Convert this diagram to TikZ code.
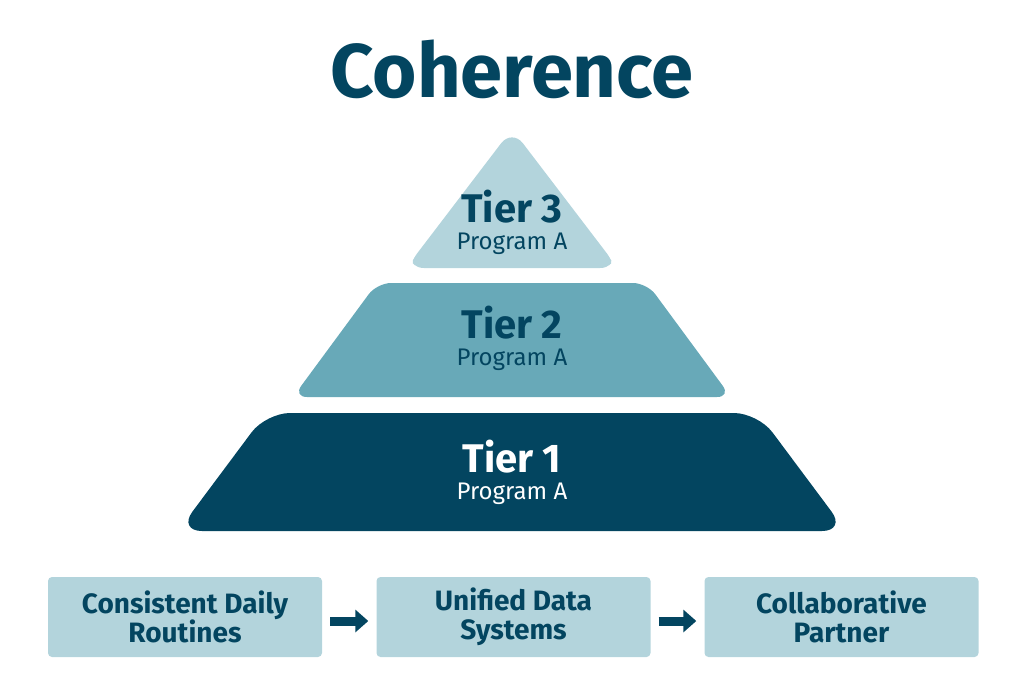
\documentclass[tikz,border=0pt]{standalone}
\usepackage{fontspec}
\setmainfont{Fira Sans}
\usetikzlibrary{arrows.meta}
\definecolor{darkteal}{HTML}{034560}
\definecolor{midteal}{HTML}{68A9B8}
\definecolor{lightteal}{HTML}{B3D4DC}
\tikzset{
  boxstyle/.style={fill=lightteal, rounded corners=4pt, minimum width=274pt, minimum height=80pt, inner sep=0pt, align=center, text=darkteal, font=\fontsize{28}{29}\selectfont\bfseries},
  tiername/.style={font=\fontsize{40}{40}\selectfont\bfseries, inner sep=0pt},
  tiersub/.style={font=\fontsize{24}{24}\selectfont, inner sep=0pt},
  flowarrow/.style={line width=9pt, darkteal, -{Triangle[width=22pt,length=13pt]}, shorten <=8pt, shorten >=8pt}
}
\begin{document}
\begin{tikzpicture}[x=1pt,y=-1pt]
\useasboundingbox (0,0) rectangle (1024,683);
\node[text=darkteal, font=\fontsize{76}{80}\selectfont\bfseries, inner sep=0pt] (title) at (512,69) {Coherence};
% Tier 3
\fill[lightteal, rounded corners=18pt] (512,129) -- (618,268) -- (406,268) -- cycle;
\fill[lightteal, rounded corners=12pt] (512,145) -- (617,266) -- (407,266) -- cycle;
% Tier 2
\fill[midteal, rounded corners=14pt] (377,283) -- (647,283) -- (731,397) -- (293,397) -- cycle;
% Tier 1
\fill[darkteal, rounded corners=24pt] (266,413) -- (758,413) -- (846,531) -- (178,531) -- cycle;
\node[tiername, text=darkteal] (t3) at (512,207) {Tier 3};
\node[tiersub, text=darkteal] (p3) at (512,244) {Program A};
\node[tiername, text=darkteal] (t2) at (512,323) {Tier 2};
\node[tiersub, text=darkteal] (p2) at (512,360) {Program A};
\node[tiername, text=white] (t1) at (512,457) {Tier 1};
\node[tiersub, text=white] (p1) at (512,494) {Program A};
% bottom flow
\node[boxstyle] (b1) at (185,617) {Consistent Daily\\Routines};
\node[boxstyle] (b2) at (513.5,617) {Unified Data\\Systems};
\node[boxstyle] (b3) at (841.5,617) {Collaborative\\Partner};
\draw[flowarrow] ([yshift=-4pt]b1.east) -- ([yshift=-4pt]b2.west);
\draw[flowarrow] ([yshift=-4pt]b2.east) -- ([yshift=-4pt]b3.west);
\end{tikzpicture}
\end{document}
